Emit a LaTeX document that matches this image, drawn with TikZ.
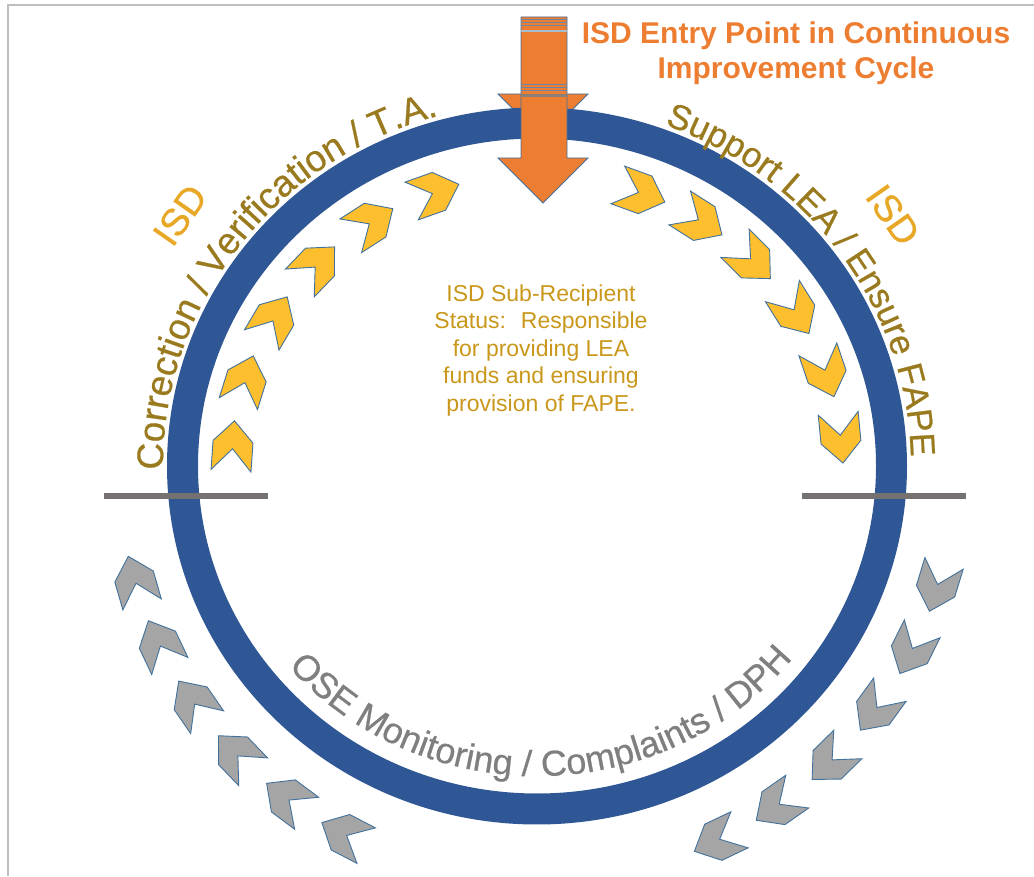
\documentclass[tikz,border=0pt]{standalone}
\usepackage{fontspec}
\setmainfont{Liberation Sans}
\newfontfamily\arcfont[FakeBold=0.6]{Liberation Sans}
\usetikzlibrary{decorations.text}
\definecolor{ringblue}{HTML}{2F5795}
\definecolor{linegray}{HTML}{767171}
\definecolor{framegray}{HTML}{BFBFBF}
\definecolor{orangeA}{HTML}{ED7D31}
\definecolor{outlineblue}{HTML}{41719C}
\definecolor{chevyellow}{HTML}{FDBF2D}
\definecolor{chevgray}{HTML}{A5A5A5}
\definecolor{darkgold}{HTML}{9A7A1E}
\definecolor{isdgold}{HTML}{E8A825}
\definecolor{midgold}{HTML}{C9971A}
\definecolor{osegray}{HTML}{7F7F7F}
\definecolor{stripeA}{HTML}{6A86A8}
\definecolor{stripeB}{HTML}{A8BCD0}
\definecolor{stripeC}{HTML}{8C7F7A}
\tikzset{
  pics/chev/.style={code={
    \filldraw[fill=#1, draw=outlineblue, line width=0.9]
      (25,0) -- (4,20) -- (-25,20) -- (-3,0) -- (-25,-20) -- (4,-20) -- cycle;}},
  arrowpart/.style={fill=orangeA, draw=outlineblue, line width=0.8},
  centertext/.style={font=\fontsize{23}{27.5}\selectfont, text=midgold, anchor=base},
  titletext/.style={font=\fontsize{30}{35}\selectfont\bfseries, text=orangeA, anchor=base},
  isdtext/.style={font=\fontsize{38}{44}\selectfont\arcfont, text=isdgold},
  sepline/.style={linegray, line width=6},
}
\begin{document}
\begin{tikzpicture}[x=1pt,y=1pt]
\useasboundingbox (0,0) rectangle (1034,876);
% frame
\draw[framegray, line width=1.5] (8,0) -- (8,871) -- (1034,871);

% upper arrow head (behind ring)
\filldraw[arrowpart] (498,782) -- (588,782) -- (543,737) -- cycle;

% ring
\draw[ringblue, line width=31] (537,410) ellipse[x radius=354.5, y radius=343];

% separator lines
\draw[sepline] (104,380) -- (268,380);
\draw[sepline] (802,380) -- (966,380);

% main arrow
\filldraw[arrowpart] (521,859) -- (567,859) -- (567,718) -- (588,718) -- (543,673)
  -- (498,718) -- (521,718) -- cycle;
\draw[stripeA, line width=1] (521,856) -- (567,856);
\draw[stripeA, line width=1] (521,853) -- (567,853);
\draw[stripeA, line width=1] (521,850) -- (567,850);
\draw[stripeB, line width=2.5] (521,845) -- (567,845);
\draw[stripeA, line width=1] (521,791) -- (567,791);
\draw[stripeA, line width=1] (521,788) -- (567,788);
\draw[stripeA, line width=1] (521,785) -- (567,785);
\draw[stripeC, line width=3] (521,780) -- (567,780);

% chevrons
\begin{scope}[shift={(537,410)}]
  \foreach \a in {176,162.7,149.4,136.1,122.8,109.5,70,57.5,45,32,18.7,5.5}
    \pic[rotate={\a-90}] at (\a:305 and 290) {chev=chevyellow};
  \foreach \a in {196,205.3,214.6,223.9,233.2,242.5,-17,-26.5,-36,-45.5,-55,-64.5}
    \pic[rotate={\a-90}] at (\a:418 and 415) {chev=chevgray};
\end{scope}

% arc texts
\path[shift={(537,410)}, decorate, decoration={text along path, text align=center,
  text={|\fontsize{37}{44}\selectfont\arcfont\color{darkgold}|Correction / Verification / T.A.}}]
  (185:374 and 363) arc[start angle=185, end angle=101, x radius=374, y radius=363];
\path[shift={(537,410)}, decorate, decoration={text along path, text align=center,
  text={|\fontsize{35}{42}\selectfont\arcfont\color{darkgold}|Support LEA / Ensure FAPE}}]
  (88:374 and 363) arc[start angle=88, end angle=-17, x radius=374, y radius=363];
\path[shift={(537,410)}, decorate, decoration={text along path, text align=center,
  text={|\fontsize{36}{42}\selectfont\arcfont\color{osegray}|OSE Monitoring / Complaints / DPH}}]
  (200:326 and 310) arc[start angle=200, end angle=342, x radius=326, y radius=310];

% ISD labels
\node[isdtext, rotate=55] (isdL) at (180,661) {ISD};
\node[isdtext, rotate=-55] (isdR) at (893,661) {ISD};

% title
\node[titletext] (title1) at (796,832) {ISD Entry Point in Continuous};
\node[titletext] (title2) at (796,797) {Improvement Cycle};

% center text
\node[centertext] (c1) at (541,574.5) {ISD Sub-Recipient};
\node[centertext] (c2) at (541,547) {Status:~ Responsible};
\node[centertext] (c3) at (541,519.5) {for providing LEA};
\node[centertext] (c4) at (541,492) {funds and ensuring};
\node[centertext] (c5) at (541,464.5) {provision of FAPE.};
\end{tikzpicture}
\end{document}
